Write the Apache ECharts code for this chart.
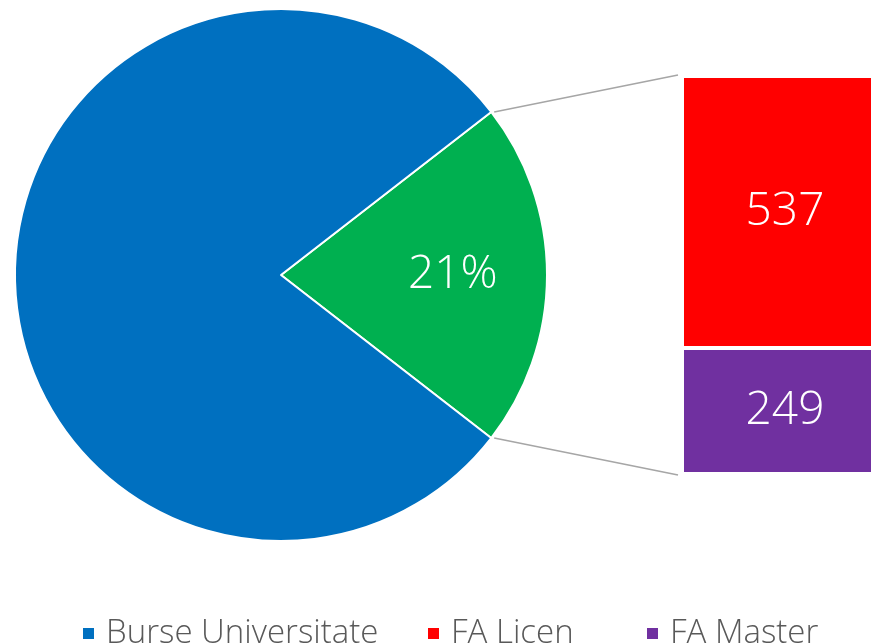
<!DOCTYPE html>
<html>
<head>
<meta charset="utf-8">
<script src="https://cdn.jsdelivr.net/npm/echarts@6/dist/echarts.min.js"></script>
<style>html,body{margin:0;padding:0;background:#fff}#c{width:871px;height:643px}</style>
</head>
<body>
<div id="c"></div>
<script>
// Data
const categories = ['Burse Universitate', 'FA Licen', 'FA Master'];
const burseValue = 2957;
const faValues = [537, 249];          // FA Licen, FA Master
const colors = ['#0070C0', '#FF0000', '#7030A0'];
const otherColor = '#00B050';

const FONT = "'Open Sans', 'Liberation Sans', sans-serif";
const faTotal = faValues[0] + faValues[1];
const total = burseValue + faTotal;

// layout
const cx = 281, cy = 275, R = 266;
const half = faTotal / total * 360 / 2;
const gridLeft = 682, gridTop = 76, gridHeight = 398, gridWidth = 206;

const chart = echarts.init(document.getElementById('c'), null, {renderer: 'canvas'});
const rad = half * Math.PI / 180;
const px = cx + R * Math.cos(rad), pyTop = cy - R * Math.sin(rad), pyBot = cy + R * Math.sin(rad);

const pieData = [
  {name: 'Other', value: faTotal, itemStyle: {color: otherColor}},
  {name: categories[0], value: burseValue, itemStyle: {color: colors[0]}}
];

const valueLabel = {show: true, position: 'inside', color: '#fff', fontSize: 46, fontFamily: FONT, fontWeight: 300};

chart.setOption({
  animation: false,
  legend: categories.map((c, i) => ({
    data: [{name: c, itemStyle: {color: colors[i]}}],
    left: [76, 421, 640][i],
    top: 612,
    itemWidth: 13, itemHeight: 13, itemGap: 8,
    icon: 'rect',
    textStyle: {fontFamily: FONT, fontSize: 33, color: '#595959', fontWeight: 300, padding: [0, 0, 0, 6]},
    selectedMode: false
  })),
  grid: {left: gridLeft, top: gridTop, height: gridHeight, width: gridWidth, outerBoundsMode: 'none', containLabel: false},
  xAxis: {type: 'category', data: ['FA'], show: false},
  yAxis: {type: 'value', min: 0, max: faTotal, show: false},
  series: [
    {
      type: 'pie', center: [cx, cy], radius: [0, R], startAngle: half, clockwise: true,
      label: {show: false}, labelLine: {show: false},
      itemStyle: {borderColor: '#fff', borderWidth: 2},
      emphasis: {disabled: true},
      data: pieData
    },
    {
      type: 'pie', center: [cx, cy], radius: [0, R * 1.27], startAngle: half, clockwise: true,
      silent: true, labelLine: {show: false},
      emphasis: {disabled: true},
      itemStyle: {color: 'rgba(0,0,0,0)', borderWidth: 0},
      label: {show: false},
      data: pieData.map((d, i) => ({
        name: d.name, value: d.value,
        itemStyle: {color: 'rgba(0,0,0,0)'},
        label: i === 0 ? Object.assign({}, valueLabel, {formatter: p => Math.round(p.percent) + '%'}) : {show: false}
      }))
    },
    {
      type: 'bar', name: categories[2], stack: 'fa', barWidth: '100%',
      data: [faValues[1]], itemStyle: {color: colors[2], borderColor: '#fff', borderWidth: 2},
      label: valueLabel
    },
    {
      type: 'bar', name: categories[1], stack: 'fa', barWidth: '100%',
      data: [faValues[0]], itemStyle: {color: colors[1], borderColor: '#fff', borderWidth: 2},
      label: valueLabel
    }
  ],
  graphic: [
    {type: 'line', shape: {x1: px + 3, y1: pyTop, x2: gridLeft - 4, y2: gridTop - 1}, style: {stroke: '#A6A6A6', lineWidth: 1.6}, silent: true},
    {type: 'line', shape: {x1: px + 3, y1: pyBot, x2: gridLeft - 4, y2: gridTop + gridHeight + 1}, style: {stroke: '#A6A6A6', lineWidth: 1.6}, silent: true}
  ]
});
</script>
</body>
</html>
